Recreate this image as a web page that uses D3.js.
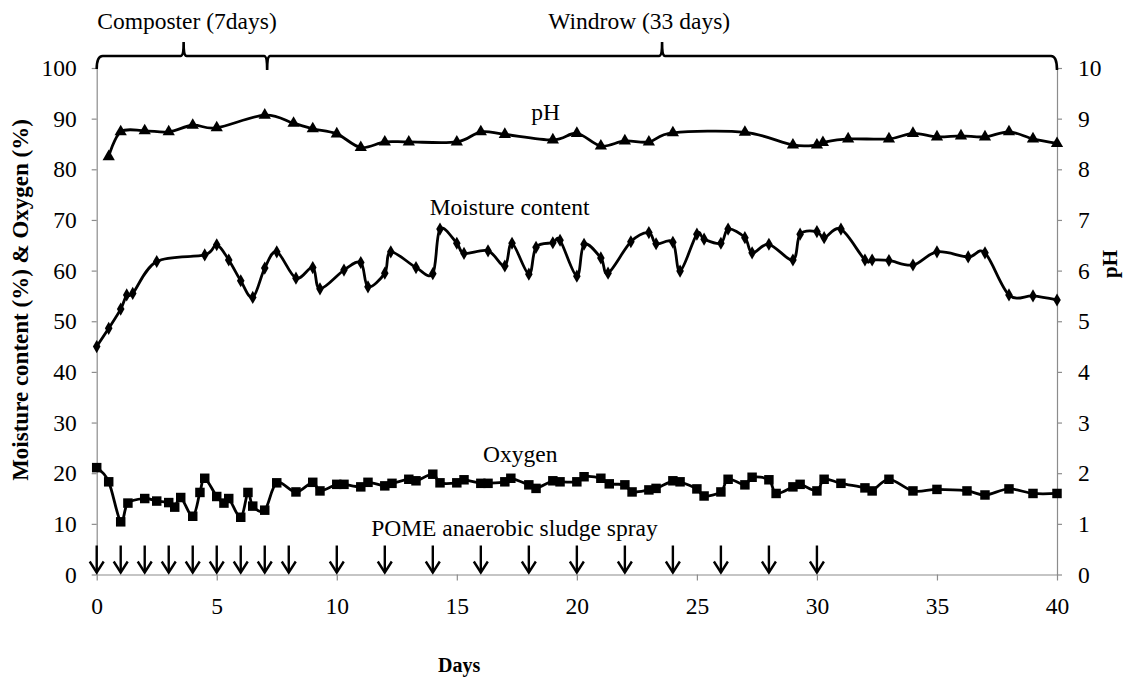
<!DOCTYPE html>
<html>
<head>
<meta charset="utf-8">
<script src="https://cdn.jsdelivr.net/npm/d3@7"></script>
<style>
  body { margin:0; background:#fff; }
  text { font-family: "Liberation Serif", "Times New Roman", serif; fill:#000; }
</style>
</head>
<body>
<div id="plot"></div>
<script>
// data
var phDays = [0.5,1,2,3,4,5,7,8.2,9,10,11,12,13,15,16,17,19,20,21,22,23,24,27,29,30,30.25,31.3,33,34,35,36,37,38,39,40];
var phVals = [8.25,8.74,8.76,8.74,8.87,8.82,9.07,8.91,8.80,8.70,8.43,8.54,8.54,8.54,8.74,8.69,8.58,8.71,8.46,8.56,8.54,8.72,8.73,8.48,8.48,8.53,8.60,8.60,8.71,8.64,8.66,8.64,8.74,8.60,8.51];

var mcDays = [0,0.5,1,1.25,1.5,2.5,4.5,5,5.5,6,6.5,7,7.5,8.3,9,9.3,10.3,11,11.3,12,12.25,13.3,14,14.3,15,15.3,16.3,17,17.3,18,18.3,19,19.3,20,20.3,21,21.3,22.25,23,23.3,24,24.3,25,25.3,26,26.3,27,27.3,28,29,29.3,30,30.3,31,32,32.3,33,34,35,36.3,37,38,39,40];
var mcVals = [45.0,48.6,52.4,55.2,55.5,61.8,63.1,65.1,62.1,58.0,54.7,60.5,63.7,58.5,60.6,56.4,60.1,61.6,56.8,59.5,63.7,60.6,59.4,68.2,65.4,63.4,63.9,60.9,65.4,59.3,64.6,65.5,66.0,58.9,65.2,62.5,59.5,65.7,67.5,65.3,65.6,59.9,67.2,66.2,65.4,68.2,66.5,63.5,65.2,62.1,67.2,67.7,66.5,68.2,62.1,62.1,62.0,61.1,63.7,62.7,63.5,55.2,55.0,54.2];

var oxDays = [0,0.5,1,1.3,2,2.5,3,3.25,3.5,4,4.3,4.5,5,5.3,5.5,6,6.3,6.5,7,7.5,8.3,9,9.3,10,10.3,11,11.3,12,12.3,13,13.3,14,14.3,15,15.3,16,16.3,17,17.25,18,18.3,19,19.3,20,20.3,21,21.35,22,22.3,23,23.3,24,24.3,25,25.3,26,26.3,27,27.3,28,28.3,29,29.3,30,30.3,31,32,32.3,33,34,35,36.25,37,38,39,40];
var oxVals = [21.1,18.3,10.4,14.1,15.0,14.5,14.2,13.3,15.2,11.5,16.2,19.0,15.4,14.1,15.0,11.3,16.2,13.5,12.7,18.1,16.3,18.2,16.5,17.8,17.8,17.3,18.2,17.5,18.0,18.8,18.5,19.8,18.1,18.1,18.7,18.0,18.0,18.3,19.0,17.7,17.0,18.5,18.3,18.3,19.3,19.0,17.9,17.7,16.3,16.7,17.0,18.5,18.3,16.9,15.5,16.3,18.8,17.7,19.2,18.7,16.0,17.3,17.8,16.5,18.8,18.0,17.1,16.5,18.8,16.5,16.8,16.5,15.7,16.9,16.0,16.0];

var sprayDays = [0,1,2,3,4,5,6,7,8,10,12,14,16,18,20,22,24,26,28,30];

var xTicks = [0,5,10,15,20,25,30,35,40];
var leftTicks = [0,10,20,30,40,50,60,70,80,90,100];
var rightTicks = [0,1,2,3,4,5,6,7,8,9,10];

// phases shown by the brace on top
var phaseStart = [0,7.1];
var phaseEnd = [7.1,40];
var phaseLabels = ['Composter (7days)','Windrow (33 days)'];
var phaseLabelX = [3.76,22.6];

var W = 1123, H = 683;
var margin = {t:68, r:66, b:108.5, l:96.7};
var width = W - margin.l - margin.r,
    height = H - margin.t - margin.b;
var fs = '23.5px';

var svg = d3.select('#plot').append('svg')
  .attr('width',W).attr('height',H);

var plot = svg.append('g')
  .attr('transform','translate('+margin.l+','+margin.t+')');

var x = d3.scaleLinear().domain([0,40]).range([0,width]);
var yL = d3.scaleLinear().domain([0,100]).range([height,0]);
var yR = d3.scaleLinear().domain([0,10]).range([height,0]);

// axes
var axisColor = '#8c8c8c';
function styleAxis(g){
  g.select('.domain').attr('stroke',axisColor).attr('stroke-width',1.2);
  g.selectAll('.tick line').attr('stroke',axisColor).attr('stroke-width',1.2);
  g.selectAll('.tick text').style('font-family','"Liberation Serif", serif').style('font-size',fs).attr('fill','#000');
}

plot.append('g')
  .attr('transform','translate(0,'+height+')')
  .call(d3.axisBottom(x).tickValues(xTicks).tickSize(6).tickSizeOuter(0).tickPadding(17))
  .call(styleAxis);

plot.append('g')
  .call(d3.axisLeft(yL).tickValues(leftTicks).tickSize(5).tickSizeOuter(0).tickPadding(15))
  .call(styleAxis);

plot.append('g')
  .attr('transform','translate('+width+',0)')
  .call(d3.axisRight(yR).tickValues(rightTicks).tickSize(5).tickSizeOuter(0).tickPadding(16))
  .call(styleAxis);

// smoothed lines like the spreadsheet
var curve = d3.curveCardinal.tension(0);

function series(days, vals, yScale, symbol, size){
  var pts = days.map(function(d,i){ return [x(d), yScale(vals[i])]; });
  plot.append('path')
    .attr('d', d3.line().curve(curve)(pts))
    .attr('fill','none').attr('stroke','#000').attr('stroke-width',2.8);
  plot.selectAll(null).data(pts).enter().append('path')
    .attr('transform',function(p){ return 'translate('+p[0]+','+p[1]+')'; })
    .attr('d', d3.symbol().type(symbol).size(size))
    .attr('fill','#000');
}

series(phDays, phVals, yR, d3.symbolTriangle, 65);
series(mcDays, mcVals, yL, d3.symbolDiamond, 50);
series(oxDays, oxVals, yL, d3.symbolSquare, 90);

// spray arrows
sprayDays.forEach(function(d){
  var ax = x(d), top = height - 29, bot = height - 2;
  plot.append('line').attr('x1',ax).attr('x2',ax).attr('y1',top).attr('y2',bot)
    .attr('stroke','#000').attr('stroke-width',2.4);
  plot.append('path').attr('d','M'+(ax-7)+','+(bot-11)+'L'+ax+','+bot+'L'+(ax+7)+','+(bot-11))
    .attr('fill','none').attr('stroke','#000').attr('stroke-width',2.4);
});

// series labels
plot.append('text').attr('x',x(18.7)).attr('y',yL(89.7)).attr('text-anchor','middle')
  .style('font-size',fs).text('pH');
plot.append('text').attr('x',x(17.2)).attr('y',yL(71.0)).attr('text-anchor','middle')
  .style('font-size',fs).text('Moisture content');
plot.append('text').attr('x',x(17.64)).attr('y',yL(22.2)).attr('text-anchor','middle')
  .style('font-size',fs).text('Oxygen');
plot.append('text').attr('x',x(17.4)).attr('y',yL(7.6)).attr('text-anchor','middle')
  .style('font-size',fs).text('POME anaerobic sludge spray');

// brace across the top
var by = -12, r = 6;
var brace = d3.path();
brace.moveTo(x(phaseStart[0]), 1);
brace.quadraticCurveTo(x(phaseStart[0]), by, x(phaseStart[0]) + r, by);
phaseLabelX.forEach(function(px,i){
  var mid = x(phaseStart[i] + (phaseEnd[i]-phaseStart[i])*(i==0?0.51:0.5));
  brace.lineTo(mid - 3, by);
  brace.quadraticCurveTo(mid, by, mid, by - 14);
  brace.quadraticCurveTo(mid, by, mid + 3, by);
  if (i == 0) {
    var e = x(phaseEnd[0]);
    brace.lineTo(e - 3, by);
    brace.quadraticCurveTo(e, by, e, by + 14);
    brace.quadraticCurveTo(e, by, e + 3, by);
  }
});
brace.lineTo(x(40) - r, by);
brace.quadraticCurveTo(x(40), by, x(40), 2);
plot.append('path').attr('d',brace.toString())
  .attr('fill','none').attr('stroke','#000').attr('stroke-width',2.6);

phaseLabels.forEach(function(t,i){
  plot.append('text').attr('x',x(phaseLabelX[i])).attr('y',-39)
    .attr('text-anchor','middle').style('font-size',fs).text(t);
});

// axis titles
svg.append('text')
  .attr('transform','translate(28,'+(margin.t+yL(54.2))+') rotate(-90)')
  .attr('text-anchor','middle').style('font-size','23px').style('font-weight','bold')
  .text('Moisture content (%) & Oxygen (%)');
svg.append('text')
  .attr('transform','translate(1117,'+(margin.t+yL(61.3))+') rotate(-90)')
  .attr('text-anchor','middle').style('font-size','21px').style('font-weight','bold')
  .text('pH');
svg.append('text')
  .attr('x',margin.l+x(15.1)).attr('y',672)
  .attr('text-anchor','middle').style('font-size','20px').style('font-weight','bold')
  .text('Days');
</script>
</body>
</html>
